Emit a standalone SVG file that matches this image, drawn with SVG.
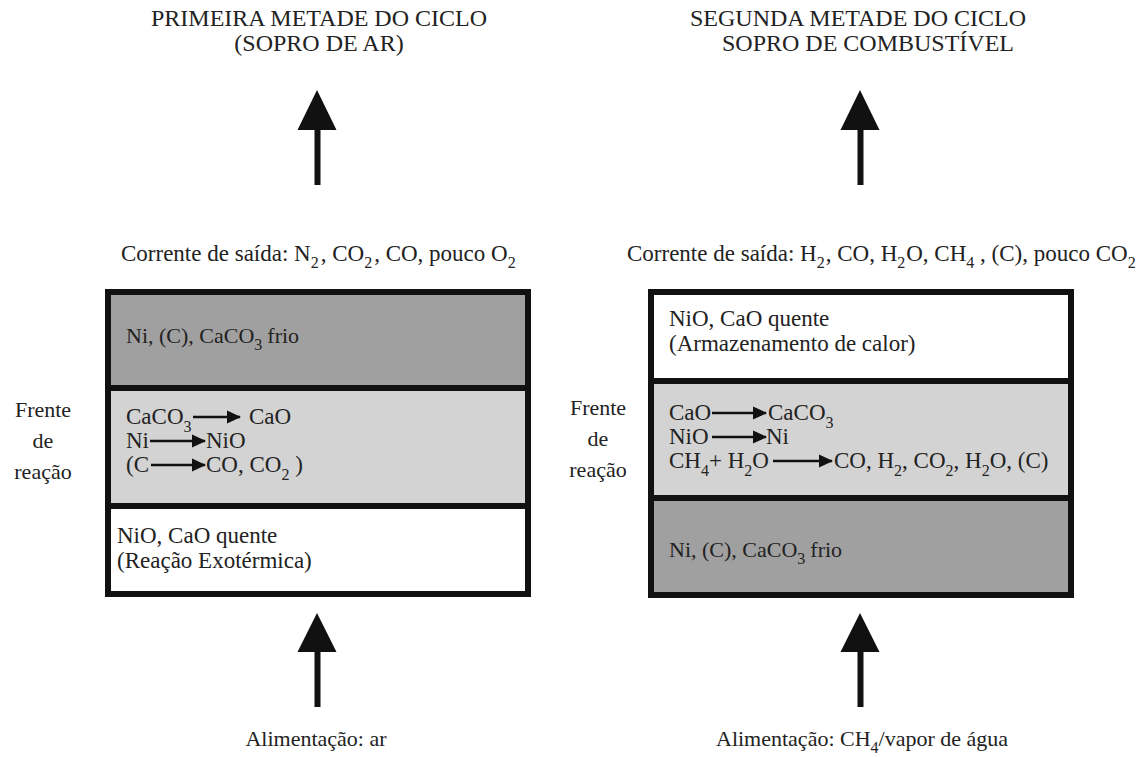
<svg xmlns="http://www.w3.org/2000/svg" width="1144" height="757" viewBox="0 0 1144 757">
<defs>
<style>
text{font-family:"Liberation Serif","Times New Roman",serif;fill:#222;}
.t{font-size:24px;}
.b{font-size:23px;}
.g{font-size:22px;}
.c{font-size:23px;}
.f{font-size:22px;}
.s{font-size:16px;}
.box{stroke:#111;stroke-width:6;}
.dk{fill:#a0a0a0;}
.lt{fill:#d3d3d3;}
.wh{fill:#ffffff;}
.big{fill:#111;}
.ra{stroke:#111;stroke-width:2.5;fill:none;marker-end:url(#ah);}
</style>
<marker id="ah" markerUnits="userSpaceOnUse" markerWidth="14" markerHeight="14" refX="13" refY="7" orient="auto">
<path d="M0,0.5 L14,7 L0,13.5 Z" fill="#111"/>
</marker>
</defs>
<rect width="1144" height="757" fill="#fff"/>

<g id="left-title">
<text class="t" x="319" y="26" text-anchor="middle">PRIMEIRA METADE DO CICLO</text>
<text class="t" x="319" y="51" text-anchor="middle">(SOPRO DE AR)</text>
</g>
<g id="right-title">
<text class="t" x="858" y="26" text-anchor="middle">SEGUNDA METADE DO CICLO</text>
<text class="t" x="868" y="51" text-anchor="middle">SOPRO DE COMBUSTÍVEL</text>
</g>

<g id="connectors">
<path class="big" d="M317,90 L336.5,130 L320.5,130 L320.5,185 L314.5,185 L314.5,130 L297.5,130 Z"/>
<path class="big" d="M860,90 L879.5,130 L863.5,130 L863.5,185 L857.5,185 L857.5,130 L840.5,130 Z"/>
<path class="big" d="M317,613 L336.5,652 L320.5,652 L320.5,707 L314.5,707 L314.5,652 L297.5,652 Z"/>
<path class="big" d="M860,613 L879.5,652 L863.5,652 L863.5,707 L857.5,707 L857.5,652 L840.5,652 Z"/>
</g>

<g id="left-outlet">
<text class="c" x="121" y="261">Corrente de saída: N<tspan class="s" dy="7">2</tspan><tspan dy="-7" dx="2">, CO</tspan><tspan class="s" dy="7">2</tspan><tspan dy="-7" dx="2">, CO, pouco O</tspan><tspan class="s" dy="7">2</tspan></text>
</g>
<g id="right-outlet">
<text class="c" x="627" y="261">Corrente de saída: H<tspan class="s" dy="7">2</tspan><tspan dy="-7" dx="1">, CO, H</tspan><tspan class="s" dy="7">2</tspan><tspan dy="-7" dx="1">O, CH</tspan><tspan class="s" dy="7">4</tspan><tspan dy="-7"> , (C), pouco CO</tspan><tspan class="s" dy="7">2</tspan></text>
</g>

<g id="left-reactor">
<rect class="box dk" x="108" y="292" width="420" height="96"/>
<rect class="box lt" x="108" y="388" width="420" height="118"/>
<rect class="box wh" x="108" y="506" width="420" height="88"/>
<text class="g" x="126" y="343">Ni, (C), CaCO<tspan class="s" dy="7">3</tspan><tspan dy="-7" dx="5">frio</tspan></text>
<text class="b" x="126" y="424">CaCO<tspan class="s" dy="8">3</tspan></text>
<path class="ra" d="M193,417 L240,417"/>
<text class="b" x="249" y="424">CaO</text>
<text class="b" x="126" y="448">Ni</text>
<path class="ra" d="M150,441 L205,441"/>
<text class="b" x="206" y="448">NiO</text>
<text class="b" x="126" y="472">(C</text>
<path class="ra" d="M151,465 L205,465"/>
<text class="b" x="206" y="472">CO, CO<tspan class="s" dy="8">2</tspan><tspan dy="-8"> )</tspan></text>
<text class="b" x="117" y="543">NiO, CaO quente</text>
<text class="b" x="117" y="568">(Reação Exotérmica)</text>
</g>
<g id="left-front">
<text class="f" x="43" y="417" text-anchor="middle">Frente</text>
<text class="f" x="43" y="448" text-anchor="middle">de</text>
<text class="f" x="43" y="479" text-anchor="middle">reação</text>
</g>

<g id="right-reactor">
<rect class="box wh" x="651" y="292" width="420" height="89"/>
<rect class="box lt" x="651" y="381" width="420" height="117"/>
<rect class="box dk" x="651" y="498" width="420" height="97"/>
<text class="b" x="669" y="326">NiO, CaO quente</text>
<text class="b" x="669" y="351">(Armazenamento de calor)</text>
<text class="b" x="669" y="420">CaO</text>
<path class="ra" d="M712,413 L766,413"/>
<text class="b" x="768" y="420">CaCO<tspan class="s" dy="8">3</tspan></text>
<text class="b" x="669" y="444">NiO</text>
<path class="ra" d="M712,437 L766,437"/>
<text class="b" x="766" y="444">Ni</text>
<text class="b" x="669" y="468">CH<tspan class="s" dy="8">4</tspan><tspan dy="-8">+ H</tspan><tspan class="s" dy="8">2</tspan><tspan dy="-8">O</tspan></text>
<path class="ra" d="M773,461 L832,461"/>
<text class="b" x="834" y="468">CO, H<tspan class="s" dy="8">2</tspan><tspan dy="-8">, CO</tspan><tspan class="s" dy="8">2</tspan><tspan dy="-8">, H</tspan><tspan class="s" dy="8">2</tspan><tspan dy="-8">O, (C)</tspan></text>
<text class="g" x="669" y="557">Ni, (C), CaCO<tspan class="s" dy="7">3</tspan><tspan dy="-7" dx="5">frio</tspan></text>
</g>
<g id="right-front">
<text class="f" x="598" y="415" text-anchor="middle">Frente</text>
<text class="f" x="598" y="446" text-anchor="middle">de</text>
<text class="f" x="598" y="477" text-anchor="middle">reação</text>
</g>

<g id="left-feed">
<text class="f" x="316" y="746" text-anchor="middle">Alimentação: ar</text>
</g>
<g id="right-feed">
<text class="f" x="716" y="746">Alimentação: CH<tspan class="s" dy="7">4</tspan><tspan dy="-7">/vapor de água</tspan></text>
</g>
</svg>
